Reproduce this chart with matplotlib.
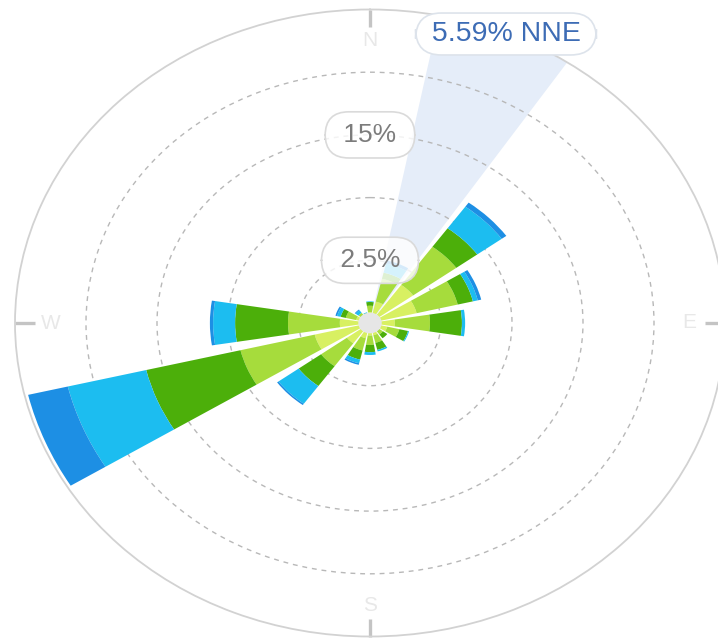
import numpy as np
import matplotlib
matplotlib.use("Agg")
import matplotlib.pyplot as plt

plt.rcParams['font.family'] = ['Liberation Sans', 'DejaVu Sans']

# ---- data (radial units: outer circle = 100, dashed rings every 20) ----
directions = ['N', 'NNE', 'NE', 'ENE', 'E', 'ESE', 'SE', 'SSE',
              'S', 'SSW', 'SW', 'WSW', 'W', 'WNW', 'NW', 'NNW']
class1 = [3.5, 7.0, 15.0, 13.5, 7.0, 5.0, 3.0, 4.0, 4.0, 5.0, 8.0, 16.0, 8.5, 4.0, 3.0, 2.0]
class2 = [2.0, 7.5, 15.0, 11.9, 9.9, 3.5, 1.5, 2.5, 3.0, 4.0, 9.0, 21.5, 14.6, 3.0, 1.0, 1.0]
class3 = [1.2, 2.0, 7.3, 4.4, 9.0, 2.5, 1.5, 2.3, 2.3, 3.0, 7.8, 27.3, 14.9, 1.5, 0.0, 0.3]
class4 = [0.2, 3.0, 8.5, 1.4, 0.9, 0.3, 0.0, 0.5, 0.9, 1.2, 7.0, 22.7, 6.2, 1.0, 1.0, 0.2]
class5 = [0.0, 1.0, 1.6, 1.0, 0.0, 0.0, 0.0, 0.0, 0.0, 0.5, 0.5, 11.5, 0.9, 0.5, 0.3, 0.0]
class_colors = ['#d8f062', '#a6dc3c', '#4caf0a', '#1cbdf0', '#1d8fe4']

ring_values = [20, 40, 60, 80]
ring_labels = ['2.5%', '', '15%', '']
r_max = 100
highlight_dir = 'NNE'
tooltip_text = '5.59% NNE'
cardinals = ['N', 'E', 'S', 'W']
cardinal_angles = [0, 90, 180, 270]

# ---- figure ----
W, H = 718, 643
fig = plt.figure(figsize=(W / 100, H / 100), dpi=100)
cx, cy, rx, ry = 370, 323, 355, 313.5
ax = fig.add_axes([(cx - rx) / W, (H - cy - ry) / H, 2 * rx / W, 2 * ry / H],
                  projection='polar')
ax.set_aspect('auto')
ax.set_theta_zero_location('N')
ax.set_theta_direction(-1)
ax.set_ylim(0, r_max)

n = len(directions)
theta = np.deg2rad(np.arange(n) * 360.0 / n)
sector = 2 * np.pi / n
bar_w = sector * 0.81

# highlight sector
hi = directions.index(highlight_dir)
ax.bar(theta[hi], r_max, width=sector, bottom=0, color='#e5edf9',
       linewidth=0, zorder=1)

# stacked bars
bottom = np.zeros(n)
for vals, col in zip([class1, class2, class3, class4, class5], class_colors):
    vals = np.asarray(vals)
    ax.bar(theta, vals, width=bar_w, bottom=bottom, color=col,
           linewidth=0, zorder=3)
    bottom = bottom + vals

# center hole
ax.bar(0, 3.3, width=2 * np.pi, bottom=0, color='#e6e6e6', linewidth=0, zorder=4)

# grid
ax.set_rticks(ring_values)
ax.set_yticklabels([])
ax.yaxis.grid(True, linestyle=(0, (3.5, 3.5)), color='#b8b8b8', linewidth=1.0)
ax.xaxis.grid(False)
ax.set_xticks([])
ax.spines['polar'].set_color('#d2d2d2')
ax.spines['polar'].set_linewidth(1.3)

# cardinal tick marks (inward)
for ang in cardinal_angles:
    ax.plot([np.deg2rad(ang)] * 2, [94.5, r_max], color='#c4c4c4', lw=2.4,
            solid_capstyle='butt', zorder=2, clip_on=False)

for rv, lab in zip(ring_values, ring_labels):
    if lab:
        ax.text(0, rv, ' ' + lab + ' ', ha='center', va='center', fontsize=19,
                color='#7c7c7c', zorder=6,
                bbox=dict(boxstyle='round,pad=0.42,rounding_size=0.9',
                          fc=(1, 1, 1, 0.82), ec='#dadada', lw=1.2))

for lab, ang in zip(cardinals, cardinal_angles):
    ax.text(np.deg2rad(ang), 90, lab, ha='center', va='center', fontsize=15,
            color='#e8e8e8', zorder=2)

fig.text(506 / W, 1 - 34 / H, ' ' + tooltip_text + ' ', ha='center', va='center',
         fontsize=20.5, color='#3d6cb5', zorder=10,
         bbox=dict(boxstyle='round,pad=0.28,rounding_size=0.9',
                   fc='white', ec='#dde3eb', lw=1.2))

fig.savefig('out.png', dpi=100)
